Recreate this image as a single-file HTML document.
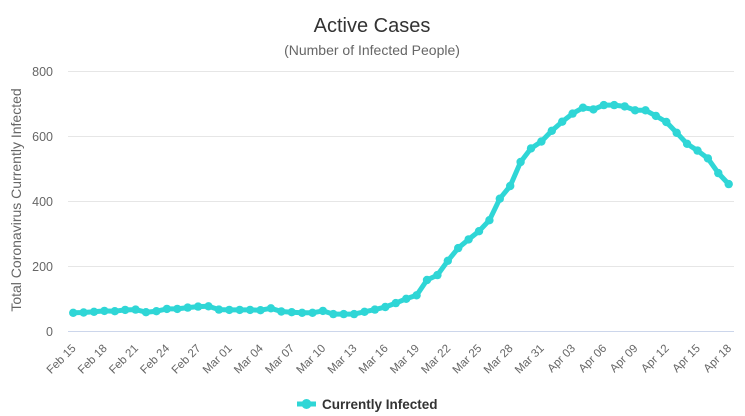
<!DOCTYPE html>
<html>
<head>
<meta charset="utf-8">
<style>
  html,body{margin:0;padding:0;background:#fff;}
  svg{display:block;font-family:"Liberation Sans",Arial,sans-serif;}
</style>
</head>
<body>
<svg width="745" height="416" viewBox="0 0 745 416" xmlns="http://www.w3.org/2000/svg">
  <rect width="745" height="416" fill="#fff"/>
  <!-- title -->
  <text x="372" y="32" text-anchor="middle" font-size="20" fill="#333">Active Cases</text>
  <text x="372" y="55" text-anchor="middle" font-size="14" fill="#666">(Number of Infected People)</text>

  <!-- grid -->
  <g stroke="#e6e6e6" stroke-width="1">
    <line x1="68" y1="71.5" x2="734" y2="71.5"/>
    <line x1="68" y1="136.5" x2="734" y2="136.5"/>
    <line x1="68" y1="201.5" x2="734" y2="201.5"/>
    <line x1="68" y1="266.5" x2="734" y2="266.5"/>
  </g>
  <line x1="68" y1="331.5" x2="734" y2="331.5" stroke="#ccd6eb" stroke-width="1"/>

  <!-- y labels -->
  <g font-size="12.5" fill="#666" text-anchor="end">
    <text x="53" y="76">800</text>
    <text x="53" y="141">600</text>
    <text x="53" y="206">400</text>
    <text x="53" y="271">200</text>
    <text x="53" y="336">0</text>
  </g>
  <text transform="translate(21,200) rotate(-90)" text-anchor="middle" font-size="14" fill="#666">Total Coronavirus Currently Infected</text>

  <!-- x labels -->
  <g font-size="11.5" fill="#666" text-anchor="end">
    <text transform="translate(76.5,349) rotate(-45)">Feb 15</text>
    <text transform="translate(107.7,349) rotate(-45)">Feb 18</text>
    <text transform="translate(138.9,349) rotate(-45)">Feb 21</text>
    <text transform="translate(170.1,349) rotate(-45)">Feb 24</text>
    <text transform="translate(201.4,349) rotate(-45)">Feb 27</text>
    <text transform="translate(232.6,349) rotate(-45)">Mar 01</text>
    <text transform="translate(263.8,349) rotate(-45)">Mar 04</text>
    <text transform="translate(295.0,349) rotate(-45)">Mar 07</text>
    <text transform="translate(326.2,349) rotate(-45)">Mar 10</text>
    <text transform="translate(357.4,349) rotate(-45)">Mar 13</text>
    <text transform="translate(388.6,349) rotate(-45)">Mar 16</text>
    <text transform="translate(419.9,349) rotate(-45)">Mar 19</text>
    <text transform="translate(451.1,349) rotate(-45)">Mar 22</text>
    <text transform="translate(482.3,349) rotate(-45)">Mar 25</text>
    <text transform="translate(513.5,349) rotate(-45)">Mar 28</text>
    <text transform="translate(544.7,349) rotate(-45)">Mar 31</text>
    <text transform="translate(575.9,349) rotate(-45)">Apr 03</text>
    <text transform="translate(607.1,349) rotate(-45)">Apr 06</text>
    <text transform="translate(638.4,349) rotate(-45)">Apr 09</text>
    <text transform="translate(669.6,349) rotate(-45)">Apr 12</text>
    <text transform="translate(700.8,349) rotate(-45)">Apr 15</text>
    <text transform="translate(732.0,349) rotate(-45)">Apr 18</text>
  </g>

  <!-- series -->
  <polyline fill="none" stroke="#2fd6d6" stroke-width="5" stroke-linejoin="round" stroke-linecap="round"
    points="73.2,312.8 83.6,312.5 94.0,311.8 104.4,310.9 114.8,311.2 125.2,309.9 135.6,309.6 146.0,312.2 156.4,311.2 166.9,308.9 177.3,308.9 187.7,307.6 198.1,306.6 208.5,306.3 218.9,309.6 229.3,309.9 239.7,309.9 250.1,309.9 260.5,310.2 270.9,308.3 281.3,311.5 291.7,312.2 302.1,312.8 312.5,312.8 322.9,310.9 333.3,314.1 343.7,314.1 354.1,314.1 364.5,311.8 374.9,309.6 385.3,307.0 395.8,303.1 406.2,298.8 416.6,295.3 427.0,280.0 437.4,275.1 447.8,260.8 458.2,248.1 468.6,239.4 479.0,231.2 489.4,220.2 499.8,198.7 510.2,186.0 520.6,162.0 531.0,148.4 541.4,141.5 551.8,130.8 562.2,121.7 572.6,113.6 583.0,107.7 593.4,109.4 603.8,105.1 614.2,105.1 624.7,106.4 635.1,110.3 645.5,110.3 655.9,115.9 666.3,122.0 676.7,132.8 687.1,143.8 697.5,150.6 707.9,158.4 718.3,173.1 728.7,184.1"/>
  <g fill="#2fd6d6">
    <circle cx="73.2" cy="312.8" r="4.2"/><circle cx="83.6" cy="312.5" r="4.2"/><circle cx="94.0" cy="311.8" r="4.2"/><circle cx="104.4" cy="310.9" r="4.2"/>
    <circle cx="114.8" cy="311.2" r="4.2"/><circle cx="125.2" cy="309.9" r="4.2"/><circle cx="135.6" cy="309.6" r="4.2"/><circle cx="146.0" cy="312.2" r="4.2"/>
    <circle cx="156.4" cy="311.2" r="4.2"/><circle cx="166.9" cy="308.9" r="4.2"/><circle cx="177.3" cy="308.9" r="4.2"/><circle cx="187.7" cy="307.6" r="4.2"/>
    <circle cx="198.1" cy="306.6" r="4.2"/><circle cx="208.5" cy="306.3" r="4.2"/><circle cx="218.9" cy="309.6" r="4.2"/><circle cx="229.3" cy="309.9" r="4.2"/>
    <circle cx="239.7" cy="309.9" r="4.2"/><circle cx="250.1" cy="309.9" r="4.2"/><circle cx="260.5" cy="310.2" r="4.2"/><circle cx="270.9" cy="308.3" r="4.2"/>
    <circle cx="281.3" cy="311.5" r="4.2"/><circle cx="291.7" cy="312.2" r="4.2"/><circle cx="302.1" cy="312.8" r="4.2"/><circle cx="312.5" cy="312.8" r="4.2"/>
    <circle cx="322.9" cy="310.9" r="4.2"/><circle cx="333.3" cy="314.1" r="4.2"/><circle cx="343.7" cy="314.1" r="4.2"/><circle cx="354.1" cy="314.1" r="4.2"/>
    <circle cx="364.5" cy="311.8" r="4.2"/><circle cx="374.9" cy="309.6" r="4.2"/><circle cx="385.3" cy="307.0" r="4.2"/><circle cx="395.8" cy="303.1" r="4.2"/>
    <circle cx="406.2" cy="298.8" r="4.2"/><circle cx="416.6" cy="295.3" r="4.2"/><circle cx="427.0" cy="280.0" r="4.2"/><circle cx="437.4" cy="275.1" r="4.2"/>
    <circle cx="447.8" cy="260.8" r="4.2"/><circle cx="458.2" cy="248.1" r="4.2"/><circle cx="468.6" cy="239.4" r="4.2"/><circle cx="479.0" cy="231.2" r="4.2"/>
    <circle cx="489.4" cy="220.2" r="4.2"/><circle cx="499.8" cy="198.7" r="4.2"/><circle cx="510.2" cy="186.0" r="4.2"/><circle cx="520.6" cy="162.0" r="4.2"/>
    <circle cx="531.0" cy="148.4" r="4.2"/><circle cx="541.4" cy="141.5" r="4.2"/><circle cx="551.8" cy="130.8" r="4.2"/><circle cx="562.2" cy="121.7" r="4.2"/>
    <circle cx="572.6" cy="113.6" r="4.2"/><circle cx="583.0" cy="107.7" r="4.2"/><circle cx="593.4" cy="109.4" r="4.2"/><circle cx="603.8" cy="105.1" r="4.2"/>
    <circle cx="614.2" cy="105.1" r="4.2"/><circle cx="624.7" cy="106.4" r="4.2"/><circle cx="635.1" cy="110.3" r="4.2"/><circle cx="645.5" cy="110.3" r="4.2"/>
    <circle cx="655.9" cy="115.9" r="4.2"/><circle cx="666.3" cy="122.0" r="4.2"/><circle cx="676.7" cy="132.8" r="4.2"/><circle cx="687.1" cy="143.8" r="4.2"/>
    <circle cx="697.5" cy="150.6" r="4.2"/><circle cx="707.9" cy="158.4" r="4.2"/><circle cx="718.3" cy="173.1" r="4.2"/><circle cx="728.7" cy="184.1" r="4.2"/>
  </g>

  <!-- legend -->
  <line x1="297" y1="404" x2="316" y2="404" stroke="#2fd6d6" stroke-width="5"/>
  <circle cx="306.5" cy="404" r="5" fill="#2fd6d6"/>
  <text x="322" y="409" font-size="13.5" font-weight="bold" fill="#333">Currently Infected</text>
</svg>
</body>
</html>
